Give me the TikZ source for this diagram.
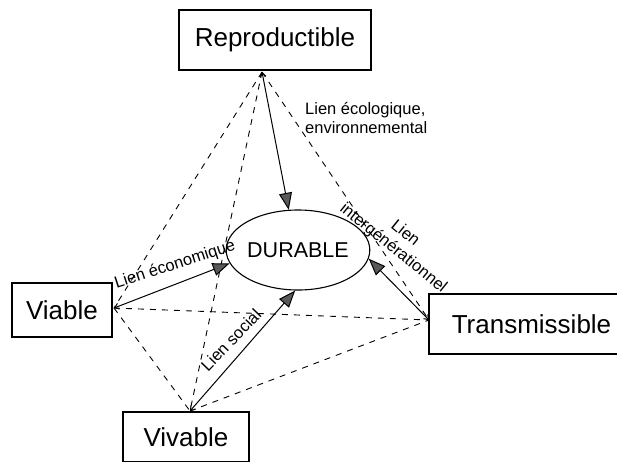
\documentclass[tikz,border=0pt]{standalone}
\usepackage{fontspec}
\setmainfont{Liberation Sans}
\usetikzlibrary{arrows.meta,shapes.geometric}
\begin{document}
\begin{tikzpicture}[x=1pt,y=-1pt,
  qbox/.style={draw, line width=1.3pt, inner sep=0pt, font=\fontsize{26}{30}\selectfont},
  lbl/.style={inner sep=0pt, font=\fontsize{16.5}{19}\selectfont},
  link/.style={line width=1pt, {Straight Barb[length=4pt,width=6pt]}-{Triangle[length=17pt,width=13pt,fill=black!65]}},
  rel/.style={line width=0.9pt, dash pattern=on 6pt off 6pt}]
\useasboundingbox (0,0) rectangle (617,461);
% boxes
\node[qbox, minimum width=192pt, minimum height=60pt] (rep) at (275,40) {Reproductible};
\node[qbox, minimum width=100pt, minimum height=54pt] (via) at (62,310) {Viable};
\node[qbox, minimum width=126pt, minimum height=50pt] (viv) at (186,437) {Vivable};
\node[qbox, minimum width=205pt, minimum height=60pt] (tra) at (531.5,324) {Transmissible};
\node[draw, ellipse, line width=1.1pt, minimum width=120pt, minimum height=80pt, inner sep=0pt,
      font=\fontsize{21.5}{24}\selectfont] (dur) at (298,250) {DURABLE};
% vertices
\coordinate (R) at (262,72);
\coordinate (Vi) at (114,308);
\coordinate (Vv) at (190,411);
\coordinate (T) at (429,320);
% dashed relations
\draw[rel] (R) -- (Vi);
\draw[rel] (R) -- (Vv);
\draw[rel] (R) -- (T);
\draw[rel] (Vi) -- (T);
\draw[rel] (Vi) -- (Vv);
\draw[rel] (Vv) -- (T);
% solid links
\draw[link] (R) -- (dur.103);
\draw[link] (Vi) -- (dur.191);
\draw[link] (Vv) -- (dur.266);
\draw[link] (T) -- (dur.353);
% labels
\node[lbl, anchor=west, align=left] (leco) at (305,118) {Lien écologique,\\environnemental};
\node[lbl, rotate=18] (lecn) at (175,265) {Lien économique};
\node[lbl, rotate=46] (lsoc) at (231,340) {Lien social};
\node[lbl, rotate=-39, align=center] (lint) at (399,241) {Lien\\intergénérationnel};
\end{tikzpicture}
\end{document}
